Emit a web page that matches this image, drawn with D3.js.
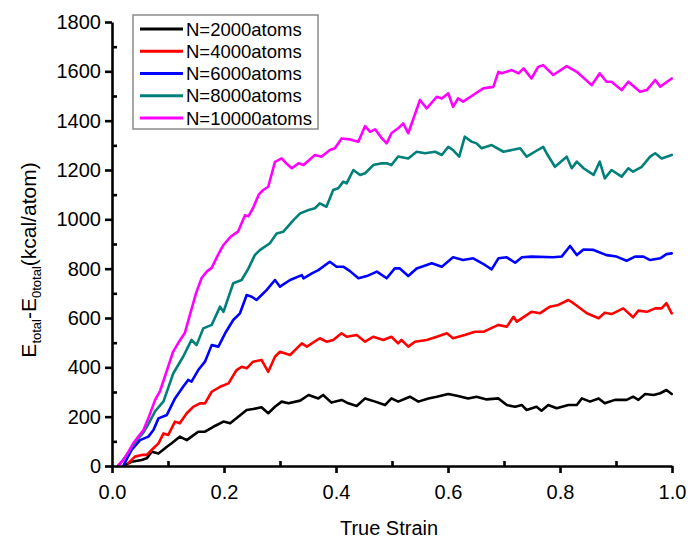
<!DOCTYPE html>
<html>
<head>
<meta charset="utf-8">
<script src="https://cdn.jsdelivr.net/npm/d3@7/dist/d3.min.js"></script>
<style>
  html, body { margin: 0; padding: 0; background: #fff; }
  svg { display: block; font-family: "Liberation Sans", Arial, sans-serif; }
</style>
</head>
<body>
<svg id="chart" width="695" height="542"></svg>
<script>
// Series labels and colours
const seriesLabels = ["N=2000atoms", "N=4000atoms", "N=6000atoms", "N=8000atoms", "N=10000atoms"];
const seriesColors = ["#000000", "#ff0000", "#0000ff", "#00807a", "#ff00ff"];

// Axis ticks
const xMajorTicks = [0, 0.2, 0.4, 0.6, 0.8, 1.0];
const xMinorTicks = [0.1, 0.3, 0.5, 0.7, 0.9];
const yMajorTicks = [0, 200, 400, 600, 800, 1000, 1200, 1400, 1600, 1800];
const yMinorTicks = [100, 300, 500, 700, 900, 1100, 1300, 1500, 1700];

// N = 2000 atoms
const strainN2000 = [0.023,0.035,0.053,0.062,0.071,0.083,0.098,0.1065,0.121,0.1335,0.142,0.154,0.166,0.181,0.199,0.211,0.2255,0.2405,0.252,0.267,0.279,0.291,0.303,0.315,0.336,0.351,0.3685,0.377,0.392,0.410,0.422,0.437,0.452,0.470,0.4875,0.499,0.511,0.532,0.547,0.565,0.580,0.6005,0.618,0.636,0.651,0.669,0.690,0.705,0.720,0.732,0.7405,0.758,0.767,0.779,0.794,0.815,0.830,0.839,0.8535,0.869,0.880,0.898,0.919,0.9305,0.940,0.952,0.967,0.979,0.990,0.9995];
const energyN2000 = [4,17,24,31,58,51,78,92,119,105,119,139,139,159,180,173,200,227,231,238,214,240,261,254,265,288,274,288,257,268,254,243,274,261,247,274,261,281,261,274,281,292,284,274,281,270,274,247,240,247,227,240,224,247,234,247,247,274,261,274,254,268,268,281,268,292,288,295,308,292];

// N = 4000 atoms
const strainN4000 = [0.029,0.041,0.053,0.062,0.074,0.083,0.092,0.1005,0.1125,0.121,0.1335,0.145,0.157,0.166,0.178,0.193,0.208,0.2225,0.2315,0.2405,0.252,0.267,0.279,0.291,0.300,0.318,0.339,0.348,0.371,0.383,0.395,0.410,0.419,0.437,0.452,0.4665,0.4845,0.499,0.511,0.517,0.529,0.541,0.562,0.580,0.598,0.609,0.630,0.648,0.663,0.690,0.705,0.717,0.723,0.749,0.764,0.782,0.797,0.815,0.824,0.848,0.869,0.880,0.892,0.913,0.9305,0.940,0.955,0.970,0.9815,0.990,0.9995];
const energyN4000 = [11,38,45,45,72,92,132,126,180,173,214,240,254,254,301,321,335,389,402,396,423,430,382,443,463,450,497,484,518,504,511,538,524,531,504,524,511,524,497,511,484,504,511,524,538,518,531,544,544,572,565,605,585,625,619,646,653,673,660,619,599,621,616,639,603,630,625,639,639,660,619];

// N = 6000 atoms
const strainN6000 = [0.020,0.035,0.050,0.065,0.074,0.083,0.098,0.1125,0.127,0.136,0.142,0.154,0.166,0.178,0.190,0.202,0.2165,0.2285,0.2405,0.2495,0.258,0.276,0.291,0.300,0.318,0.339,0.342,0.357,0.3685,0.389,0.401,0.413,0.425,0.440,0.455,0.473,0.4905,0.505,0.514,0.529,0.544,0.571,0.589,0.609,0.627,0.645,0.666,0.678,0.690,0.705,0.720,0.732,0.749,0.788,0.803,0.818,0.830,0.842,0.860,0.883,0.901,0.919,0.934,0.949,0.961,0.979,0.990,0.9995];
const energyN6000 = [0,65,105,119,146,193,207,274,321,349,342,389,423,490,484,538,592,619,693,686,673,713,754,727,754,774,761,781,794,828,808,808,790,761,770,788,761,801,801,770,801,822,808,846,835,842,815,797,842,846,824,846,849,846,849,892,855,878,876,855,849,832,849,849,835,842,859,862];

// N = 8000 atoms
const strainN8000 = [0.011,0.025,0.035,0.047,0.056,0.065,0.077,0.092,0.1095,0.127,0.142,0.151,0.163,0.178,0.193,0.199,0.2165,0.2315,0.2435,0.255,0.264,0.282,0.294,0.306,0.324,0.336,0.351,0.3625,0.371,0.383,0.395,0.404,0.413,0.419,0.431,0.443,0.452,0.4665,0.482,0.4905,0.499,0.511,0.529,0.544,0.559,0.577,0.589,0.6005,0.609,0.620,0.630,0.642,0.651,0.660,0.678,0.699,0.714,0.729,0.7405,0.755,0.770,0.776,0.791,0.812,0.821,0.830,0.842,0.860,0.871,0.880,0.892,0.910,0.922,0.9305,0.946,0.961,0.970,0.9815,0.9995];
const energyN8000 = [0,40,75,112,135,170,222,262,376,443,511,490,558,572,646,625,741,754,800,855,875,903,943,950,997,1024,1038,1045,1065,1051,1119,1126,1153,1146,1200,1180,1187,1220,1227,1227,1220,1255,1247,1274,1268,1274,1261,1294,1281,1254,1335,1315,1308,1288,1301,1274,1281,1288,1254,1274,1294,1268,1213,1254,1207,1234,1207,1180,1234,1166,1200,1173,1207,1193,1213,1254,1268,1247,1261];

// N = 10000 atoms
const strainN10000 = [0.010,0.020,0.030,0.038,0.047,0.056,0.066,0.077,0.086,0.097,0.109,0.120,0.130,0.140,0.150,0.160,0.170,0.178,0.188,0.199,0.212,0.225,0.2375,0.2435,0.252,0.262,0.270,0.279,0.291,0.303,0.312,0.321,0.333,0.342,0.3625,0.374,0.389,0.398,0.410,0.425,0.440,0.452,0.461,0.470,0.482,0.4905,0.499,0.511,0.520,0.529,0.550,0.562,0.580,0.589,0.6005,0.609,0.618,0.627,0.645,0.663,0.681,0.690,0.696,0.714,0.726,0.735,0.749,0.761,0.770,0.788,0.812,0.830,0.8565,0.871,0.883,0.892,0.910,0.922,0.943,0.955,0.970,0.979,0.9995];
const energyN10000 = [0,24,60,92,119,145,200,268,305,380,463,505,539,620,700,762,790,803,850,896,930,950,1017,1012,1046,1100,1119,1132,1233,1247,1225,1207,1227,1220,1261,1254,1281,1288,1328,1324,1315,1378,1355,1365,1328,1308,1349,1369,1389,1349,1484,1450,1497,1490,1511,1456,1490,1477,1504,1531,1537,1598,1592,1605,1592,1612,1571,1618,1625,1585,1621,1598,1544,1592,1558,1558,1524,1558,1517,1524,1565,1538,1571];

const strains = [strainN2000, strainN4000, strainN6000, strainN8000, strainN10000];
const energies = [energyN2000, energyN4000, energyN6000, energyN8000, energyN10000];

const series = seriesLabels.map((label, i) => ({
  label,
  color: seriesColors[i],
  points: strains[i].map((s, j) => ({ strain: s, energy: energies[i][j] }))
}));

const svg = d3.select("#chart");
const margin = { left: 112, right: 23, top: 22, bottom: 76 };
const width = 695 - margin.left - margin.right;
const height = 542 - margin.top - margin.bottom;

const x = d3.scaleLinear().domain([0, 1]).range([0, width]);
const y = d3.scaleLinear().domain([0, 1800]).range([height, 0]);

const g = svg.append("g").attr("transform", `translate(${margin.left},${margin.top})`);

// Data lines
const line = d3.line().x(d => x(d.strain)).y(d => y(d.energy));
g.append("g").selectAll("path")
  .data(series)
  .join("path")
  .attr("d", d => line(d.points))
  .attr("fill", "none")
  .attr("stroke", d => d.color)
  .attr("stroke-width", 2.6)
  .attr("stroke-linejoin", "round")
  .attr("stroke-linecap", "round");

// Axes: major ticks outward with labels, minor ticks inward
function styleAxis(sel) {
  sel.selectAll(".domain").attr("stroke", "#000").attr("stroke-width", 2.6);
  sel.selectAll(".tick line").attr("stroke", "#000").attr("stroke-width", 2.6);
  sel.selectAll("text").attr("fill", "#000").attr("font-size", 20)
    .attr("font-family", "'Liberation Sans', Arial, sans-serif");
}

const xAxisG = g.append("g").attr("transform", `translate(0,${height})`)
  .call(d3.axisBottom(x).tickValues(xMajorTicks).tickFormat(d3.format(".1f"))
    .tickSizeInner(7).tickSizeOuter(0).tickPadding(12));
styleAxis(xAxisG);

g.append("g").attr("transform", `translate(0,${height})`)
  .call(d3.axisTop(x).tickValues(xMinorTicks).tickFormat("").tickSizeInner(5).tickSizeOuter(0))
  .call(s => s.select(".domain").remove())
  .call(styleAxis);

const yAxisG = g.append("g")
  .call(d3.axisLeft(y).tickValues(yMajorTicks).tickFormat(d3.format("d"))
    .tickSizeInner(7).tickSizeOuter(0).tickPadding(4));
styleAxis(yAxisG);

g.append("g")
  .call(d3.axisRight(y).tickValues(yMinorTicks).tickFormat("").tickSizeInner(5).tickSizeOuter(0))
  .call(s => s.select(".domain").remove())
  .call(styleAxis);

// Axis titles
svg.append("text")
  .attr("x", margin.left + width / 2 - 3)
  .attr("y", 535)
  .attr("text-anchor", "middle")
  .attr("font-size", 20)
  .attr("fill", "#000")
  .text("True Strain");

const yTitle = svg.append("text")
  .attr("transform", "translate(36,260) rotate(-90)")
  .attr("text-anchor", "middle")
  .attr("font-size", 21)
  .attr("fill", "#000");
yTitle.append("tspan").text("E");
yTitle.append("tspan").attr("font-size", 13).attr("dy", 5).text("total");
yTitle.append("tspan").attr("dy", -5).text("-E");
yTitle.append("tspan").attr("font-size", 13).attr("dy", 5).text("0total");
yTitle.append("tspan").attr("dy", -5).text("(kcal/atom)");

// Legend
const legend = svg.append("g").attr("transform", "translate(133,15)");
legend.append("rect")
  .attr("width", 185).attr("height", 114)
  .attr("fill", "#fff")
  .attr("stroke", "#8a8a8a").attr("stroke-width", 1.5);
const rowY = d3.scaleBand().domain(seriesLabels).range([3, 114]);
const rows = legend.selectAll("g.row").data(series).join("g")
  .attr("class", "row")
  .attr("transform", d => `translate(0,${rowY(d.label) + rowY.bandwidth() / 2})`);
rows.append("line")
  .attr("x1", 7).attr("x2", 50)
  .attr("stroke", d => d.color).attr("stroke-width", 3);
rows.append("text")
  .attr("x", 53).attr("dy", "0.36em")
  .attr("font-size", 18.5)
  .attr("fill", "#000")
  .text(d => d.label);
</script>
</body>
</html>
